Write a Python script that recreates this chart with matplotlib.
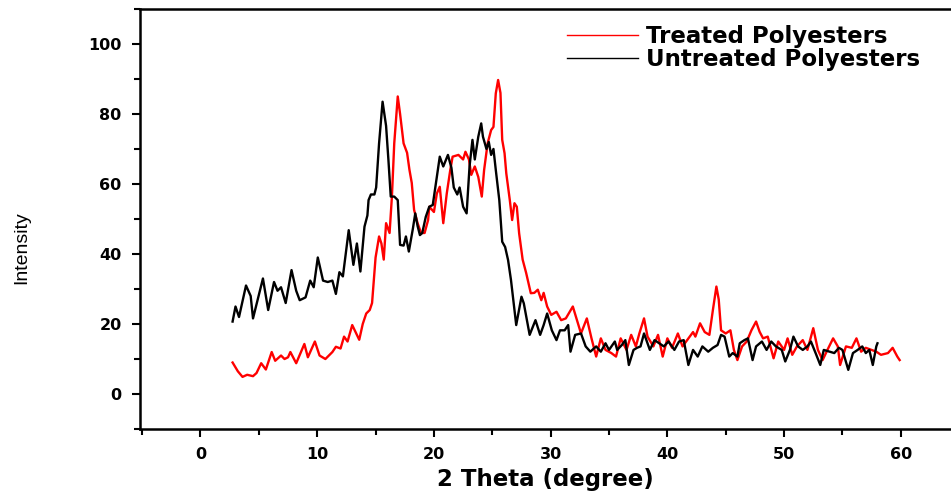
import matplotlib
matplotlib.use('Agg')
import matplotlib.pyplot as plt
from matplotlib.ticker import MultipleLocator

plt.rcParams['font.family'] = ['DejaVu Sans']

# treated polyesters (red)
treated_x = [2.75, 3.2, 3.6, 4.0, 4.5, 4.8, 5.2, 5.6, 6.1, 6.4, 6.9, 7.2, 7.5, 7.7, 8.2, 8.9, 9.2, 9.8,
             10.2, 10.7, 11.3, 11.6, 12.0, 12.3, 12.6, 13.0, 13.3, 13.6, 13.9, 14.2, 14.5, 14.7, 15.0,
             15.3, 15.5, 15.7, 15.9, 16.2, 16.4, 16.6, 16.9, 17.1, 17.4, 17.7, 17.9, 18.1, 18.3, 18.6,
             18.9, 19.2, 19.5, 19.6, 20.0, 20.25, 20.5, 20.8, 21.1, 21.4, 21.6, 22.1, 22.5, 22.7, 23.0,
             23.2, 23.5, 23.8, 24.1, 24.3, 24.6, 24.9, 25.1, 25.3, 25.5, 25.7, 25.85, 26.05, 26.2, 26.5,
             26.7, 26.9, 27.1, 27.3, 27.6, 27.9, 28.1, 28.3, 28.6, 28.9, 29.2, 29.4, 29.7, 30.05, 30.5,
             30.9, 31.3, 31.9, 32.3, 32.6, 33.1, 33.5, 33.9, 34.3, 34.7, 35.2, 35.6, 36.0, 36.5, 36.9,
             37.3, 37.6, 38.0, 38.3, 38.8, 39.2, 39.6, 40.0, 40.4, 40.9, 41.3, 41.7, 42.2, 42.4, 42.8,
             43.2, 43.6, 43.9, 44.2, 44.4, 44.6, 45.0, 45.4, 45.7, 46.0, 46.4, 46.8, 47.2, 47.6, 47.9,
             48.2, 48.6, 49.1, 49.5, 50.0, 50.3, 50.7, 51.1, 51.6, 52.0, 52.5, 52.9, 53.3, 53.8, 54.2,
             54.6, 54.8, 55.3, 55.8, 56.2, 56.6, 57.0, 57.5, 57.9, 58.3, 58.9, 59.3, 59.7, 59.9]
treated_y = [9, 6.5, 4.9, 5.5, 5.1, 6, 8.8, 7, 12, 9.5, 11, 10, 10.5, 12, 8.8, 14.3, 10.5, 15,
             11, 10, 12, 13.5, 13, 16.4, 15, 19.7, 17.6, 15.5, 20, 23, 24, 26, 39,
             45, 43, 38.4, 48.8, 46, 56.4, 71.6, 85, 80, 71.6, 68.9, 64.1, 60.3, 52.6, 48.8,
             46, 46, 49.7, 53.5, 52, 57.3, 59.2, 48.8, 57.3, 64, 67.8, 68.3, 67, 69.2, 67,
             62.6, 65, 62, 56.4, 64, 71.6, 75.4, 76.3, 85.9, 89.7, 86, 72.6, 68.8, 63, 55.4,
             49.7, 54.5, 53.5, 45.9, 38.4, 34.6, 31.7, 28.8, 28.9, 29.8, 26.8, 28.9, 25, 22.6, 23.5,
             21.1, 21.6, 25, 20.6, 17.3, 21.6, 15.9, 10.7, 15.9, 12.6, 11.7, 10.7, 15.9, 12.6, 16.9,
             13.6, 17.3, 21.6, 16.4, 13.6, 16.9, 10.7, 15.9, 13.2, 17.3, 13.6, 15.4, 17.7, 16.4, 20.2,
             17.7, 16.9, 24, 30.7, 27, 18.2, 17.3, 18.2, 12.6, 9.7, 13.6, 15, 18.2, 20.7, 17.8,
             15.9, 16.4, 10.2, 15, 12.6, 15.9, 11.2, 13.6, 15.4, 12.6, 18.8, 12.6, 9.7, 13.2, 15.9,
             13.6, 8.3, 13.6, 13.2, 15.9, 12.1, 13.2, 12.6, 12.1, 11.2, 11.7, 13.2, 10.7, 9.7]

# untreated polyesters (black)
untreated_x = [2.75, 3.0, 3.3, 3.9, 4.3, 4.5, 4.9, 5.35, 5.8, 6.3, 6.6, 6.9, 7.3, 7.8, 8.2, 8.5, 9.0,
               9.4, 9.7, 10.05, 10.5, 10.9, 11.3, 11.6, 11.9, 12.2, 12.7, 13.1, 13.4, 13.7, 14.05, 14.3,
               14.4, 14.6, 14.9, 15.05, 15.3, 15.6, 15.9, 16.1, 16.3, 16.6, 16.9, 17.1, 17.4, 17.6,
               17.85, 18.2, 18.4, 18.6, 18.8, 19.0, 19.3, 19.6, 19.9, 20.2, 20.5, 20.8, 21.2, 21.5,
               21.7, 22.0, 22.2, 22.5, 22.8, 23.05, 23.3, 23.5, 23.8, 24.05, 24.2, 24.5, 24.7, 24.9,
               25.1, 25.3, 25.6, 25.85, 26.1, 26.35, 26.6, 27.05, 27.5, 27.7, 28.2, 28.7, 29.1, 29.4,
               29.7, 30.1, 30.5, 30.8, 31.2, 31.5, 31.7, 32.1, 32.6, 33.0, 33.4, 33.9, 34.3, 34.7,
               35.0, 35.5, 35.7, 36.1, 36.4, 36.7, 37.1, 37.4, 37.7, 38.0, 38.5, 38.9, 39.3, 39.7,
               40.1, 40.6, 41.0, 41.4, 41.8, 42.2, 42.6, 43.0, 43.5, 43.9, 44.3, 44.6, 44.9, 45.3,
               45.6, 46.0, 46.2, 46.6, 46.9, 47.3, 47.6, 48.1, 48.5, 48.9, 49.3, 49.8, 50.1, 50.5,
               50.8, 51.2, 51.6, 52.0, 52.3, 52.7, 53.1, 53.4, 53.9, 54.3, 54.7, 55.0, 55.5, 55.9,
               56.3, 56.7, 57.0, 57.3, 57.6, 57.9, 58.0]
untreated_y = [20.7, 25, 22, 31, 28, 21.6, 27, 33, 24, 32, 29.5, 30.5, 26, 35.4, 29.5, 26.8, 27.6,
               32.4, 30.5, 39, 32.4, 32, 32.4, 28.6, 34.8, 33.6, 46.8, 36.9, 43, 35, 47.8, 51,
               55.4, 57, 57, 59, 71.6, 83.5, 76.6, 66.9, 56.4, 56.4, 55.4, 42.6, 42.4, 45,
               40.7, 47.3, 51.6, 48, 45.4, 46, 50.6, 53.5, 54, 61, 67.8, 65, 68.3, 64.6,
               59, 57, 59, 53.5, 51.6, 65, 72.6, 67, 73.5, 77.3, 73.5, 70, 72, 68.3,
               70, 64, 55.4, 43.5, 42, 38.3, 32.6, 19.7, 27.8, 25.9, 16.9, 21.1, 16.9, 19.7,
               23, 18.2, 15.4, 18.2, 18.2, 19.7, 12.1, 16.9, 17.3, 13.6, 12.1, 13.6, 12.1, 14.5,
               12.6, 15, 12.6, 14, 15.4, 8.3, 12.6, 13.2, 13.6, 17.3, 12.6, 15.4, 14.5, 13.6,
               15, 12.6, 15, 15.4, 8.3, 12.6, 10.7, 13.6, 12.1, 13.2, 14, 16.9, 16.4, 10.7,
               11.7, 10.7, 14.5, 15.4, 15.9, 9.7, 13.6, 15, 12.6, 15, 13.6, 12.6, 9.3, 12.6,
               16.4, 13.6, 12.6, 13.6, 15, 11.7, 8.3, 12.6, 12.1, 11.7, 13.2, 12.6, 6.9, 11.7,
               12.6, 13.6, 11.7, 12.6, 8.3, 13.6, 14.5]

x_ticks = [0, 10, 20, 30, 40, 50, 60]
y_ticks = [0, 20, 40, 60, 80, 100]

fig = plt.figure(figsize=(9.51, 4.96), dpi=100)
ax = fig.add_axes([0.147, 0.135, 0.853, 0.847])

ax.plot(treated_x, treated_y, color='#ff0000', lw=1.7, label='Treated Polyesters')
ax.plot(untreated_x, untreated_y, color='black', lw=1.7, label='Untreated Polyesters')

ax.set_xlim(-5.2, 64.3)
ax.set_ylim(-10, 110)
ax.set_xticks(x_ticks)
ax.set_yticks(y_ticks)
ax.xaxis.set_minor_locator(MultipleLocator(5))
ax.yaxis.set_minor_locator(MultipleLocator(10))
ax.tick_params(which='major', direction='out', length=6, width=1.5, labelsize=11.5, pad=7)
ax.tick_params(which='minor', direction='out', length=4, width=1.5)
ax.tick_params(top=False, right=False)
for lab in ax.get_xticklabels() + ax.get_yticklabels():
  lab.set_fontweight('bold')

for s in ['left', 'bottom', 'top']:
  ax.spines[s].set_linewidth(1.8)
ax.spines['right'].set_visible(False)

ax.set_xlabel('2 Theta (degree)', fontsize=16.5, fontweight='bold', labelpad=4)
fig.text(0.023, 0.5, 'Intensity', rotation=90, ha='center', va='center', fontsize=14,
         family=['Liberation Sans Narrow', 'Liberation Sans'])

leg = ax.legend(loc='upper left', bbox_to_anchor=(0.527, 0.962), frameon=False,
                prop={'weight': 'bold', 'size': 16.5},
                handlelength=3.1, handletextpad=0.35, labelspacing=0.0,
                borderpad=0, borderaxespad=0)
for h in leg.get_lines():
  h.set_linewidth(1.0)

fig.savefig('out.png', dpi=100)
